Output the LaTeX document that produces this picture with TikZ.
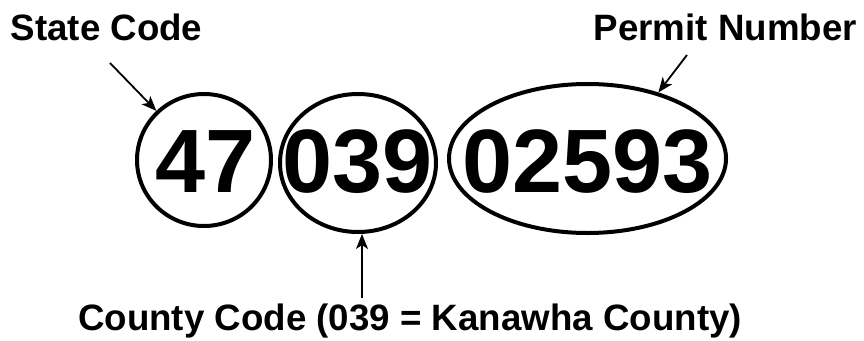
\documentclass[tikz,border=0pt]{standalone}
\usepackage{fontspec}
\setmainfont{Liberation Sans}
\usetikzlibrary{shapes.geometric,arrows.meta}
\begin{document}
\begin{tikzpicture}[x=1pt,y=-1pt,
  part/.style={ellipse,draw,line width=4pt,inner sep=0pt},
  digits/.style={inner sep=0pt,anchor=base,font=\fontsize{90}{90}\selectfont\bfseries},
  caption/.style={inner sep=0pt,font=\fontsize{36.7}{40}\selectfont\bfseries},
  pointer/.style={line width=1.8pt,-{Stealth[length=15pt,width=12pt,inset=4pt]}}]
  \useasboundingbox (0,0) rectangle (864,340);

  % outlines of the three parts of the number
  \node[part,minimum width=134pt,minimum height=132pt] (e1) at (204,160) {};
  \node[part,minimum width=156pt,minimum height=138pt] (e2) at (358,163) {};
  \node[part,minimum width=277pt,minimum height=149pt] (e3) at (587.5,158.5) {};

  % the digits
  \node[digits] (d1) at (205.5,192) {47};
  \node[digits] (d2) at (357.5,192) {039};
  \node[digits] (d3) at (587.5,192) {02593};

  % captions
  \node[caption,anchor=base west] (sc) at (10.5,40) {State Code};
  \node[caption,anchor=base east] (pn) at (857,40) {Permit Number};
  \node[caption,anchor=base west] (cc) at (78,330) {County Code (039 = Kanawha County)};

  % arrow tails
  \coordinate (sct) at (110,63);
  \coordinate (pnt) at (687,55);
  \coordinate (cct) at (362,298);

  \draw[pointer] (sct) -- (e1);
  \draw[pointer] (pnt) -- (e3.43);
  \draw[pointer] (cct) -- (cct |- e2.south);
\end{tikzpicture}
\end{document}
